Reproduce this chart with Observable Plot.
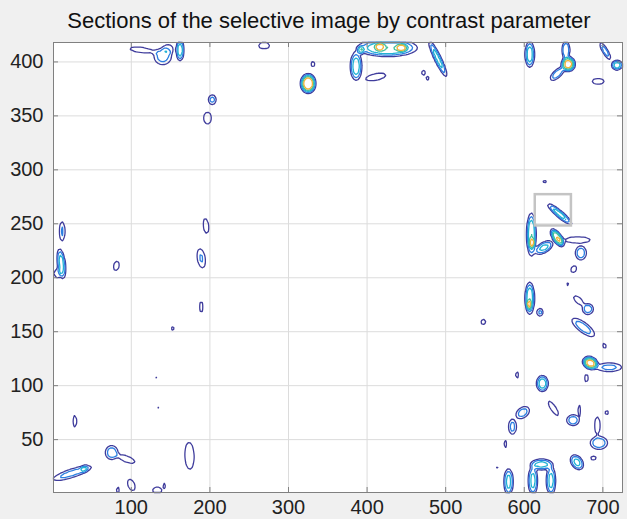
<!DOCTYPE html>
<html>
<head>
<meta charset="utf-8">
<script src="https://cdn.jsdelivr.net/npm/d3@7"></script>
<script src="https://cdn.jsdelivr.net/npm/@observablehq/plot@0.6"></script>
<style>
  html, body { margin: 0; padding: 0; background: #f0f0f0; }
  #wrap { position: relative; width: 627px; height: 519px; }
  #title { position: absolute; top: 8px; left: 0; width: 658px; text-align: center;
           font-family: "Liberation Sans", Arial, sans-serif; font-size: 22px; color: #111; }
</style>
</head>
<body>
<div id="wrap"><div id="title">Sections of the selective image by contrast parameter</div></div>
<script>
// Axis ticks
const xTicks = [100, 200, 300, 400, 500, 600, 700];
const yTicks = [50, 100, 150, 200, 250, 300, 350, 400];
const xDomain = [1, 725];
const yDomain = [1, 418];

// Contour levels and their colours (parula-like)
const levels = [1, 2, 3, 4, 5];
const levelColors = ["#3f3c9c", "#2c7fe2", "#22b3d3", "#45c19c", "#f2b43a"];

// Blobs: [x, y, outer half-length, outer half-width, angle (deg), peak level]
const blobs = [
  // top left
  [140, 405, 11, 7.5, 0, 2.3],
  [147, 412, 6, 4, 0, 1.4],
  [113, 411, 15, 2.6, -5, 1.3],
  [162, 411, 5, 10, 0, 3.5],
  [203, 365, 5, 4.5, 0, 2.2],
  [197, 348, 5, 5.5, 0, 1.5],
  // top middle
  [269, 415, 7, 3, 0, 1.5],
  [331, 398, 2.5, 2.5, 0, 1.5],
  [325, 380, 10, 9.3, 0, 6],
  [386, 396, 7.5, 13, 0, 3.5],
  [426, 413, 38, 8, 0, 4],
  [392, 411, 4, 3.5, 0, 2.5],
  [416, 414, 5, 3, 0, 2.2],
  [444, 413, 6, 3, 0, 2.5],
  [411, 386, 13, 3.2, 8, 1.4],
  [472, 390, 2.5, 2.5, 0, 1.5],
  [477, 385, 2.2, 2, 0, 1.5],
  // top right
  [490, 403, 20, 4, -56, 3.3],
  [607, 407, 6, 12, 0, 3.5],
  [653, 411, 5, 8, 0, 3],
  [656, 398, 9, 7, 0, 5.5],
  [642, 389, 10, 4, 30, 2.5],
  [694, 382, 7.6, 2.8, 0, 1.4],
  [703, 410, 10, 3, -49, 2.5],
  [718, 397, 7, 4.5, 0, 3.5],
  // right middle
  [626, 289, 1.8, 1.8, 0, 1.5],
  [645, 259, 18, 3.5, -31, 3.3],
  [609, 240, 6, 20, 0, 4],
  [610, 232, 3, 4, 0, 2],
  [625, 228, 12, 5, 20, 3.2],
  [642, 237, 11, 5, -43, 5],
  [668, 235, 16, 3, 0, 1.4],
  [672, 223, 7, 6.5, 0, 2.5],
  [663, 208, 4, 3, 30, 1.5],
  [656, 194, 1.5, 1.5, 0, 1.5],
  [607, 181, 6, 15, 0, 3.8],
  [606, 175, 2.5, 4, 0, 2],
  [620, 168, 4, 3.5, 0, 2.2],
  [548, 159, 3, 2.5, 0, 1.5],
  [681, 171, 7, 5, 0, 2.5],
  [669, 179, 7, 3, -30, 1.5],
  [675, 154, 16, 5, -27, 2.4],
  [702, 137, 2, 2.5, 40, 1.4],
  [684, 121, 10, 6, -10, 5.5],
  [708, 117, 16, 4, 0, 2.2],
  [679, 107, 2.5, 3.5, 0, 1.4],
  [591, 110, 2, 3, 0, 1.4],
  [623, 102, 7.5, 7.5, 0, 3.5],
  // bottom right
  [598, 75, 9, 5, 20, 2.4],
  [585, 62, 5, 7, 0, 2.3],
  [637, 79, 9, 3, -45, 1.5],
  [662, 68, 8, 5, 0, 2.5],
  [670, 77, 2, 5, 0, 1.5],
  [693, 63, 3.5, 8, 0, 1.6],
  [695, 47, 11, 6, 0, 2.6],
  [705, 75, 2, 2, 0, 1.5],
  [576, 46, 2, 3.5, 0, 1.4],
  [688, 33, 3.5, 2, 0, 1.4],
  [667, 29, 9, 6, -30, 3.2],
  [565, 24, 1.3, 2, 0, 1.4],
  [580, 11, 6, 12, 0, 3.3],
  [611, 12, 6, 13, 0, 3.3],
  [634, 12, 6, 13, 0, 3.3],
  [622, 27, 14, 5, 0, 3.3],
  // bottom left
  [28, 67, 2.5, 5.5, 0, 1.5],
  [134, 79, 1, 1, 0, 1.3],
  [131, 107, 1.2, 1.2, 0, 1.3],
  [62, 123, 1, 1, 0, 1.3],
  [75, 38, 8, 6.5, 0, 2.5],
  [94, 32, 11, 3, -15, 1.4],
  [174, 35, 6, 12.5, 3, 1.5],
  [25, 19, 25, 4, 13, 2.3],
  [40, 23, 4, 2.5, 13, 1.5],
  [100, 8, 6, 4, -50, 1.5],
  [83, 3, 2, 3, 0, 1.4],
  [133, 3, 6, 3, 0, 1.5],
  [142, 7, 2, 2.5, 0, 1.4],
  // left middle
  [12, 243, 3.5, 9, 0, 2.1],
  [11, 213, 5, 14, 10, 3.5],
  [6, 204, 4, 4, 0, 1.5],
  [81, 211, 3.5, 4.5, -30, 1.5],
  [120, 220, 1, 1, 0, 1.3],
  [195, 248, 3.5, 7, 10, 1.5],
  [189, 218, 5, 9, 15, 2.05],
  [189, 173, 1.8, 6, 0, 1.5],
  [153, 153, 1.8, 1.8, 0, 1.5]
];

// Highlight box (data coordinates)
const boxRegion = [{x1: 614, x2: 660, y1: 248, y2: 277}];

// Flat-topped bumps built from the blob table
const prepared = blobs.map(([cx, cy, a, b, ang, p]) => {
  const k = Math.pow(2 * Math.log(p), 0.25);
  const t = ang * Math.PI / 180;
  const s1 = a / k, s2 = b / k;
  return {cx, cy, s1, s2, c: Math.cos(t), s: Math.sin(t), p, r: 2.4 * Math.max(s1, s2)};
});
function field(x, y) {
  let v = 0;
  for (const g of prepared) {
    const dx = x - g.cx, dy = y - g.cy;
    if (dx > g.r || dx < -g.r || dy > g.r || dy < -g.r) continue;
    const u = (dx * g.c + dy * g.s) / g.s1;
    const w = (-dx * g.s + dy * g.c) / g.s2;
    const q = u * u + w * w;
    v += g.p * Math.exp(-0.5 * q * q);
  }
  return v;
}

const W = 627, H = 519, mT = 42, mB = 27, mL = 53, mR = 5;
const innerH = H - mT - mB, innerW = W - mL - mR;

const chart = Plot.plot({
  width: W, height: H,
  marginTop: mT, marginBottom: mB, marginLeft: mL, marginRight: mR,
  style: {background: "transparent", fontFamily: "'Liberation Sans', Arial, sans-serif", fontSize: "20px", color: "#222"},
  x: {domain: xDomain},
  y: {domain: yDomain},
  color: {type: "ordinal", domain: levels, range: levelColors},
  marks: [
    Plot.frame({fill: "white", stroke: null}),
    Plot.ruleX(xTicks, {stroke: "#dcdcdc", strokeWidth: 1}),
    Plot.ruleY(yTicks, {stroke: "#dcdcdc", strokeWidth: 1}),
    Plot.contour({
      x1: xDomain[0], x2: xDomain[1], y1: yDomain[0], y2: yDomain[1],
      value: field, thresholds: levels,
      stroke: "value", fill: "none", strokeWidth: 1.3
    }),
    Plot.rect(boxRegion, {x1: "x1", x2: "x2", y1: "y1", y2: "y2", fill: "none", stroke: "#c4c4c4", strokeWidth: 2.5}),
    Plot.frame({stroke: "#808080", strokeWidth: 1}),
    Plot.ruleX(xTicks, {insetTop: innerH - 5, stroke: "#808080"}),
    Plot.ruleX(xTicks, {insetBottom: innerH - 5, stroke: "#808080"}),
    Plot.ruleY(yTicks, {insetRight: innerW - 5, stroke: "#808080"}),
    Plot.ruleY(yTicks, {insetLeft: innerW - 5, stroke: "#808080"}),
    Plot.axisX(xTicks, {anchor: "bottom", tickSize: 0, tickPadding: 7, fontSize: 20}),
    Plot.axisY(yTicks, {anchor: "left", tickSize: 0, tickPadding: 10, fontSize: 20})
  ]
});
document.getElementById("wrap").prepend(chart);
</script>
</body>
</html>
